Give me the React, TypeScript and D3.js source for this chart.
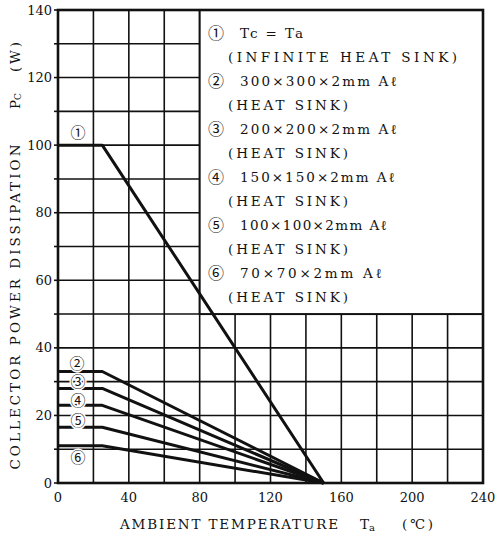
import React from 'react'
import * as d3 from 'd3'

// axis ticks
const tempTicks = [0, 40, 80, 120, 160, 200, 240]
const powerTicks = [0, 20, 40, 60, 80, 100, 120, 140]

// curves: flat up to the knee, then linear derating to zero
const curveIds = ['①', '②', '③', '④', '⑤', '⑥']
const flatPower = [100, 33, 28, 23, 16.5, 11]
const kneeTemp = [25, 25, 25, 25, 25, 25]
const zeroTemp = [150, 150, 150, 150, 150, 150]

// where each circled id sits (data coords)
const idTemp = [11.3, 10.8, 11.3, 11.3, 11.3, 11.3]
const idPower = [103.6, 35.2, 29.8, 24.2, 18.4, 7.4]

const legendLines = [
  '① Tc = Ta',
  '(INFINITE HEAT SINK)',
  '② 300×300×2mm Aℓ',
  '(HEAT SINK)',
  '③ 200×200×2mm Aℓ',
  '(HEAT SINK)',
  '④ 150×150×2mm Aℓ',
  '(HEAT SINK)',
  '⑤ 100×100×2mm Aℓ',
  '(HEAT SINK)',
  '⑥ 70×70×2mm Aℓ',
  '(HEAT SINK)'
]

const W = 495
const H = 535
const margin = { top: 10, right: 12, bottom: 52, left: 58 }
const FONT = 'DejaVu Serif, Liberation Serif, Noto Sans CJK JP, serif'
const INK = '#111'

const App = () => {
  const x = d3.scaleLinear().domain([0, 240]).range([margin.left, W - margin.right])
  const y = d3.scaleLinear().domain([0, 140]).range([H - margin.bottom, margin.top])

  const line = d3.line<[number, number]>()
    .x(d => x(d[0]))
    .y(d => y(d[1]))

  const curves = flatPower.map((p, i) => [
    [0, p], [kneeTemp[i], p], [zeroTemp[i], 0]
  ] as [number, number][])

  // legend box covers the upper right grid cells
  const lx0 = x(80), lx1 = x(240), ly0 = y(140), ly1 = y(50)

  // per-line text widths
  const legendLen = [63, 229, 157, 120, 157, 120, 155, 120, 147, 120, 142, 120]

  return (
    <svg width={W} height={H} style={{ position: 'absolute', left: 0, top: 0, background: '#fff' }}
      fontFamily={FONT} fill={INK}>
      <rect width={W} height={H} fill="#fff" />

      {/* grid */}
      <g stroke={INK} strokeWidth={1.6}>
        {x.ticks(12).map(t => (
          <line key={'v' + t} x1={x(t)} x2={x(t)} y1={y(0)} y2={y(140)} />
        ))}
        {y.ticks(14).map(t => (
          <line key={'h' + t} x1={x(0)} x2={x(240)} y1={y(t)} y2={y(t)} />
        ))}
        {y.ticks(14).map(t => (
          <line key={'k' + t} x1={x(0) - 4} x2={x(0)} y1={y(t)} y2={y(t)} />
        ))}
      </g>

      {/* legend box */}
      <rect x={lx0} y={ly0} width={lx1 - lx0} height={ly1 - ly0} fill="#fff" stroke={INK} strokeWidth={2} />
      <g fontSize={13.5}>
        {legendLines.map((s, i) => {
          const hasId = !s.startsWith('(')
          const yy = 33 + i * 24
          return hasId ? (
            <g key={i}>
              <text x={216} y={yy} textAnchor="middle" dominantBaseline="central" fontSize={16}>{s.slice(0, 1)}</text>
              <text x={240} y={yy} dominantBaseline="central" textLength={legendLen[i]} lengthAdjust="spacing">
                {s.slice(2)}
              </text>
            </g>
          ) : (
            <text key={i} x={228} y={yy} dominantBaseline="central" textLength={legendLen[i]} lengthAdjust="spacing">
              {s}
            </text>
          )
        })}
      </g>

      {/* plot border */}
      <rect x={x(0)} y={y(140)} width={x(240) - x(0)} height={y(0) - y(140)} fill="none" stroke={INK} strokeWidth={2.6} />

      {/* derating curves */}
      <g fill="none" stroke={INK} strokeWidth={3} strokeLinejoin="round">
        {curves.map((c, i) => <path key={i} d={line(c) || ''} />)}
      </g>

      {/* circled ids */}
      <g fontSize={15} textAnchor="middle">
        {curveIds.map((id, i) => (
          <text key={i} x={x(idTemp[i])} y={y(idPower[i])} dominantBaseline="central"
            stroke="#fff" strokeWidth={3} paintOrder="stroke">{id}</text>
        ))}
      </g>

      {/* y tick labels */}
      <g fontSize={13} textAnchor="end">
        {powerTicks.map(t => (
          <text key={t} x={x(0) - 6} y={y(t)} dominantBaseline="central">{t}</text>
        ))}
      </g>

      {/* x tick labels */}
      <g fontSize={13} textAnchor="middle">
        {tempTicks.map(t => (
          <text key={t} x={x(t)} y={497} dominantBaseline="central">{t}</text>
        ))}
      </g>

      {/* x axis title */}
      <g fontSize={13.5}>
        <text x={120} y={524} dominantBaseline="central" textLength={218} lengthAdjust="spacing">AMBIENT TEMPERATURE</text>
        <text x={360} y={524} dominantBaseline="central">T<tspan fontSize={10} dy={3}>a</tspan></text>
        <text x={402} y={524} dominantBaseline="central" textLength={31} lengthAdjust="spacing">(℃)</text>
      </g>

      {/* y axis title */}
      <g fontSize={13.5}>
        <text transform="translate(15,307) rotate(-90)" textAnchor="middle" dominantBaseline="central"
          textLength={325} lengthAdjust="spacing">COLLECTOR POWER DISSIPATION</text>
        <text transform="translate(15,101) rotate(-90)" textAnchor="middle" dominantBaseline="central">
          P<tspan fontSize={9} dy={3}>C</tspan>
        </text>
        <text transform="translate(15,57) rotate(-90)" textAnchor="middle" dominantBaseline="central"
          textLength={30} lengthAdjust="spacing">(W)</text>
      </g>
    </svg>
  )
}

export default App
